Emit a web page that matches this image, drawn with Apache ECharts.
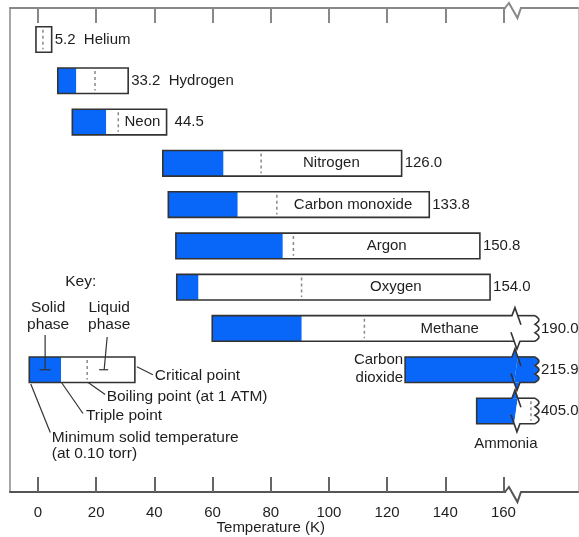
<!DOCTYPE html>
<html><head><meta charset="utf-8">
<script src="https://cdn.jsdelivr.net/npm/echarts@6/dist/echarts.min.js"></script>
<style>html,body{margin:0;padding:0;background:#fff}#c{width:579px;height:537px}</style>
</head><body><div id="c"></div>
<script>
// ---- data (temperatures in K) ----
const gases = ['Helium','Hydrogen','Neon','Nitrogen','Carbon monoxide','Argon','Oxygen','Methane','Carbon dioxide','Ammonia'];
const minSolidT = [-0.7, 6.8, 11.8, 42.9, 44.8, 47.4, 47.7, 59.9, 126.2, 150.8];
const triplePointT = [null, 13.1, 23.4, 63.7, 68.6, 84.1, 55.1, 90.6, 216.6, 195.4];
const boilingPointT = [1.7, 19.6, 27.6, 76.7, 82.1, 87.8, 90.6, 112.2, null, 239.8];
const barEndT = [4.7, 31.0, 44.2, 125.0, 134.5, 151.9, 155.4, 190.0, 215.9, 405.0];
const criticalLabels = ['5.2','33.2','44.5','126.0','133.8','150.8','154.0','190.0','215.9','405.0'];
const tickValues = [0, 20, 40, 60, 80, 100, 120, 140, 160];
const axisBreakT = 164.3;
const keyRow = 8;
const keyMinSolid = -3.0, keyTriple = 7.9, keyBoiling = 16.9, keyCritical = 33.3;

// ---- styles ----
const FONT = '"Liberation Sans", Arial, Helvetica, sans-serif';
const BLUE = '#0866f8';
const EDGE = '#333';
const TXT = '#1e1e1e';
const nameLayout = {Helium:'after', Hydrogen:'after', Neon:'insideGap', 'Carbon dioxide':'left', Ammonia:'below'};

function text(x, y, t, align, size, extra) {
  return {type:'text', z2:20, style:Object.assign({x:x, y:y, text:t, fill:TXT, font:(size||15)+'px '+FONT, align:align||'left', verticalAlign:'middle'}, extra||{})};
}
function rect(x, y, w, h, fill) { return {type:'rect', shape:{x:x, y:y, width:w, height:h}, style:{fill:fill, stroke:null}}; }
function poly(points, fill) { return {type:'polygon', shape:{points:points}, style:{fill:fill, stroke:null}}; }
function pline(points, color, w, dash) { return {type:'polyline', z2:10, shape:{points:points}, style:{stroke:color||EDGE, lineWidth:w||1.6, fill:null, lineDash:dash||null}}; }

function drawBar(api, row, tMin, tTri, tBoil, tEnd) {
  const X = t => api.coord([t, row])[0];
  const yc = api.coord([0, row])[1];
  const h = api.size([0, 1])[1] * 0.62;
  const yT = yc - h / 2, yB = yc + h / 2;
  const broken = tEnd > axisBreakT;
  const xs = X(tMin);
  const bx = X(axisBreakT);
  const xBody = broken ? bx : X(tEnd);
  const xe = broken ? bx + 19 : xBody;
  const ch = [];
  if (!broken) {
    ch.push(rect(xs, yT, xBody - xs, h, '#fff'));
    if (tTri != null) ch.push(rect(xs, yT, Math.min(X(tTri), xBody) - xs, h, BLUE));
    if (tBoil != null) ch.push(pline([[X(tBoil), yT + 3], [X(tBoil), yB - 3]], '#888', 1.5, [3, 3]));
    ch.push({type:'rect', z2:10, shape:{x:xs, y:yT, width:xBody - xs, height:h}, style:{fill:null, stroke:EDGE, lineWidth:1.6}});
  } else {
    const bodyCol = (tTri != null && tTri > axisBreakT) ? BLUE : '#fff';
    const stubCol = (tTri != null && tTri >= tEnd) ? BLUE : '#fff';
    const bodyPts = [[xs, yT], [bx + 1.8, yT], [bx - 1.8, yB], [xs, yB]];
    ch.push(poly(bodyPts, '#fff'));
    if (tTri != null) {
      if (tTri > axisBreakT) ch.push(poly(bodyPts, BLUE));
      else ch.push(rect(xs, yT, X(tTri) - xs, h, BLUE));
    }
    ch.push(poly([[bx + 1.8, yT], [xe, yT], [xe, yB], [bx - 1.8, yB]], stubCol));
    ch.push(poly([[bx - 4, yT], [bx - 1, yT - 8], [bx + 1.8, yT]], bodyCol));
    ch.push(poly([[bx - 1.8, yB], [bx + 1, yB + 8], [bx + 4, yB]], stubCol));
    const wav = [];
    for (let k = 0; k <= 30; k++) { const t = k / 30; wav.push([xe + 4 * Math.abs(Math.sin(3 * Math.PI * t)), yT + t * h]); }
    ch.push(poly([[xe, yT]].concat(wav).concat([[xe, yB]]), stubCol));
    if (tBoil != null) {
      const xbl = tBoil < axisBreakT ? X(tBoil) : bx + 15;
      ch.push(pline([[xbl, yT + 3], [xbl, yB - 3]], '#888', 1.5, [3, 3]));
    }
    ch.push(pline([[bx + 5, yT + 9], [bx - 1, yT - 8], [bx - 4, yT], [xs, yT], [xs, yB], [bx - 1.8, yB]]));
    ch.push(pline([[bx - 5, yB - 9], [bx + 1, yB + 8], [bx + 4, yB], [xe, yB]]));
    ch.push(pline([[bx + 1.8, yT], [xe, yT]]));
    ch.push(pline(wav));
  }
  return {ch:ch, xs:xs, xe:xe, xBody:xBody, yT:yT, yB:yB, yc:yc, broken:broken, X:X};
}

function renderGas(params, api) {
  const i = params.dataIndex;
  const row = api.value(0);
  const b = drawBar(api, row, minSolidT[i], triplePointT[i], boilingPointT[i], barEndT[i]);
  const name = gases[i];
  const lay = nameLayout[name] || 'inside';
  const valX = b.broken ? b.xe + 6 : b.xBody + (lay === 'insideGap' ? 8 : 3);
  if (lay === 'after') {
    b.ch.push(text(valX, b.yc, criticalLabels[i] + '  ' + name));
  } else {
    b.ch.push(text(valX, b.yc, criticalLabels[i]));
    if (lay === 'inside' || lay === 'insideGap') {
      const tb = boilingPointT[i];
      const xl = (tb != null && tb < axisBreakT) ? b.X(tb) : b.xs;
      b.ch.push(text((xl + b.xe) / 2, b.yc, name, 'center'));
    } else if (lay === 'left') {
      b.ch.push(text(b.xs - 2, b.yc - 1, name.replace(' ', '\n'), 'right', 15, {lineHeight:18}));
    } else if (lay === 'below') {
      b.ch.push(text((b.xs + b.xe) / 2, b.yB + 20, name, 'center'));
    }
  }
  return {type:'group', children:b.ch};
}

function renderKey(params, api) {
  const row = api.value(0);
  const b = drawBar(api, row, keyMinSolid, keyTriple, keyBoiling, keyCritical);
  const xs = b.xs, xt = b.X(keyTriple), xb = b.X(keyBoiling), xe = b.xe, yT = b.yT, yB = b.yB, yc = b.yc;
  const S = 15.5, L = '#333';
  const c = b.ch;
  c.push(text(xs + 36, yT - 75, 'Key:', 'left', S));
  const sx = (xs + xt) / 2;
  c.push(text(sx + 3, yT - 41, 'Solid\nphase', 'center', S, {lineHeight:17}));
  c.push(text(xb + 22, yT - 41, 'Liquid\nphase', 'center', S, {lineHeight:17}));
  c.push(pline([[sx, yT - 22], [sx, yc]], L, 1.2));
  c.push(pline([[sx - 5.5, yc], [sx + 5.5, yc]], L, 1.2));
  c.push(pline([[xb + 20, yT - 20], [xb + 17, yc]], L, 1.2));
  c.push(pline([[xb + 12, yc], [xb + 21, yc]], L, 1.2));
  c.push(pline([[xe + 2, yc - 3], [xe + 18, yc + 5]], L, 1.2));
  c.push(text(xe + 20, yc + 6, 'Critical point', 'left', S));
  c.push(pline([[xb + 1, yB], [xb + 18, yB + 12]], L, 1.2));
  c.push(text(xb + 19.5, yB + 14, 'Boiling point (at 1 ATM)', 'left', S));
  c.push(pline([[xt + 0.5, yB], [xt + 22, yB + 31]], L, 1.2));
  c.push(text(xt + 25, yB + 33, 'Triple point', 'left', S));
  c.push(pline([[xs + 1.5, yB + 1.5], [xs + 21, yB + 50]], L, 1.2));
  c.push(text(xs + 22.5, yB + 63, 'Minimum solid temperature\n(at 0.10 torr)', 'left', S, {lineHeight:16}));
  return {type:'group', children:c};
}

function renderAxisDecor(params, api) {
  const cs = params.coordSys;
  const bx = api.coord([api.value(0), 0])[0];
  const yTop = cs.y, yBot = cs.y + cs.height;
  const ch = [];
  [[yTop, '#888'], [yBot, '#555']].forEach(function (p) {
    const y = p[0];
    ch.push(rect(bx - 10, y - 2, 15, 4, '#fff'));
    ch.push(pline([[bx - 11, y], [bx - 7, y - 5], [bx + 1.5, y + 10], [bx + 5, y], [bx + 6, y]], p[1], 2));
  });
  const mid = (tickValues[0] + tickValues[tickValues.length - 1]) / 2;
  const xm = api.coord([mid, 0])[0];
  ch.push(text(xm, yBot + 36, 'Temperature (K)', 'center', 15));
  return {type:'group', children:ch};
}

const xMin = -9.625, xMax = 185.63;
const chart = echarts.init(document.getElementById('c'), null, {renderer:'canvas'});
chart.setOption({
  animation:false,
  backgroundColor:'#fff',
  grid:{left:10, right:1, top:8, bottom:45, show:false},
  xAxis:[
    {type:'value', position:'bottom', min:xMin, max:xMax,
     axisLine:{show:true, onZero:false, lineStyle:{color:'#555', width:2}},
     axisTick:{show:true, inside:true, length:15, customValues:tickValues, lineStyle:{color:'#666', width:2}},
     axisLabel:{customValues:tickValues, fontSize:15, fontFamily:FONT, color:TXT, margin:13},
     splitLine:{show:false}},
    {type:'value', position:'top', min:xMin, max:xMax,
     axisLine:{show:true, onZero:false, lineStyle:{color:'#888', width:2}},
     axisTick:{show:true, inside:true, length:15, customValues:tickValues, lineStyle:{color:'#888', width:2}},
     axisLabel:{show:false}, splitLine:{show:false}}
  ],
  yAxis:[
    {type:'value', inverse:true, min:-0.763, max:10.962, position:'left',
     axisLine:{show:true, onZero:false, lineStyle:{color:'#888', width:1.5}}, axisTick:{show:false}, axisLabel:{show:false}, splitLine:{show:false}},
    {type:'value', inverse:true, min:-0.763, max:10.962, position:'right',
     axisLine:{show:true, onZero:false, lineStyle:{color:'#c8c8c8', width:1}}, axisTick:{show:false}, axisLabel:{show:false}, splitLine:{show:false}}
  ],
  series:[
    {type:'custom', name:'gases', clip:false, xAxisIndex:0, yAxisIndex:0,
     data:gases.map(function (g, i) { return [i, minSolidT[i], barEndT[i]]; }),
     encode:{x:[1, 2], y:0}, renderItem:renderGas},
    {type:'custom', name:'key', clip:false, xAxisIndex:0, yAxisIndex:0,
     data:[[keyRow, keyMinSolid, keyCritical]], encode:{x:[1, 2], y:0}, renderItem:renderKey},
    {type:'custom', name:'axisBreak', clip:false, xAxisIndex:0, yAxisIndex:0, z:5,
     data:[[axisBreakT, 0]], encode:{x:0, y:1}, renderItem:renderAxisDecor}
  ]
});
</script></body></html>
